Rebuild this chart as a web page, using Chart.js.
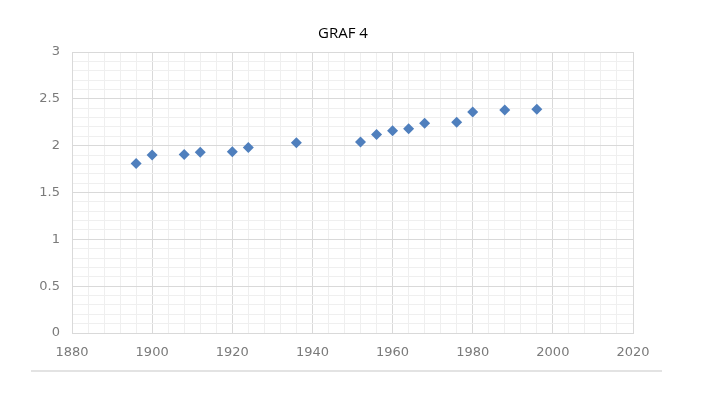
<!DOCTYPE html>
<html>
<head>
<meta charset="utf-8">
<script src="https://cdn.jsdelivr.net/npm/chart.js@4"></script>
<style>
  html, body { margin: 0; padding: 0; background: #fff; }
  #wrap { position: relative; width: 710px; height: 398px; }
  #title {
    position: absolute; left: 243px; width: 200px; top: 22px;
    text-align: center; font: 15px "Open Sans", sans-serif; line-height: 20px; color: #000;
  }
</style>
</head>
<body>
<div id="wrap">
  <canvas id="myChart" width="710" height="398"></canvas>
  <div id="title">GRAF 4</div>
</div>
<script>
const years = [1896, 1900, 1908, 1912, 1920, 1924, 1936, 1952, 1956, 1960, 1964, 1968, 1976, 1980, 1988, 1996];
const heights = [1.81, 1.90, 1.905, 1.93, 1.935, 1.98, 2.03, 2.04, 2.12, 2.16, 2.18, 2.24, 2.25, 2.36, 2.38, 2.39];
const x_min = 1880, x_max = 2020, x_step = 4, x_label_step = 20;
const y_min = 0, y_max = 3, y_step = 0.1, y_label_step = 0.5;

function isMajor(v, step) {
    let r = v / step;
    return Math.abs(r - Math.round(r)) < 1e-6;
}

// grey rule under the chart, as in the source document
const rulePlugin = {
    id: 'rule',
    afterDraw(chart) {
        const c = chart.ctx;
        c.save();
        c.strokeStyle = '#e3e3e3';
        c.lineWidth = 2;
        c.beginPath();
        c.moveTo(31, 371);
        c.lineTo(662, 371);
        c.stroke();
        c.restore();
    }
};

const gridColor = (step) => (ctx) => isMajor(ctx.tick.value, step) ? '#d9d9d9' : '#efefef';

new Chart(document.getElementById('myChart'), {
    type: 'scatter',
    data: {
        datasets: [{
            label: 'GRAF 4',
            data: years.map((y, i) => ({ x: y, y: heights[i] })),
            pointStyle: 'rectRot',
            pointRadius: 5.5,
            pointHoverRadius: 5.5,
            backgroundColor: '#4f7fbd',
            borderColor: '#4f7fbd',
            borderWidth: 0
        }]
    },
    plugins: [rulePlugin],
    options: {
        responsive: false,
        animation: false,
        layout: { padding: { left: 0, right: 77, top: 52, bottom: 0 } },
        plugins: {
            legend: { display: false },
            tooltip: { enabled: false },
            title: { display: false }
        },
        scales: {
            x: {
                type: 'linear',
                min: x_min,
                max: x_max,
                afterFit(s) { s.height = 65; },
                ticks: {
                    stepSize: x_step,
                    autoSkip: false,
                    maxRotation: 0,
                    padding: 12,
                    color: '#7a7a7a',
                    font: { family: 'DejaVu Sans', size: 13 },
                    callback: (v) => isMajor(v, x_label_step) ? String(v) : ''
                },
                grid: { color: gridColor(x_label_step), drawTicks: false },
                border: { color: '#d9d9d9' }
            },
            y: {
                min: y_min,
                max: y_max,
                afterFit(s) { s.width = 72; },
                ticks: {
                    stepSize: y_step,
                    autoSkip: false,
                    padding: 12,
                    color: '#7a7a7a',
                    font: { family: 'DejaVu Sans', size: 13 },
                    callback: (v) => isMajor(v, y_label_step) ? String(Math.round(v * 10) / 10) : ''
                },
                grid: { color: gridColor(y_label_step), drawTicks: false },
                border: { color: '#d9d9d9' }
            }
        }
    }
});
</script>
</body>
</html>
